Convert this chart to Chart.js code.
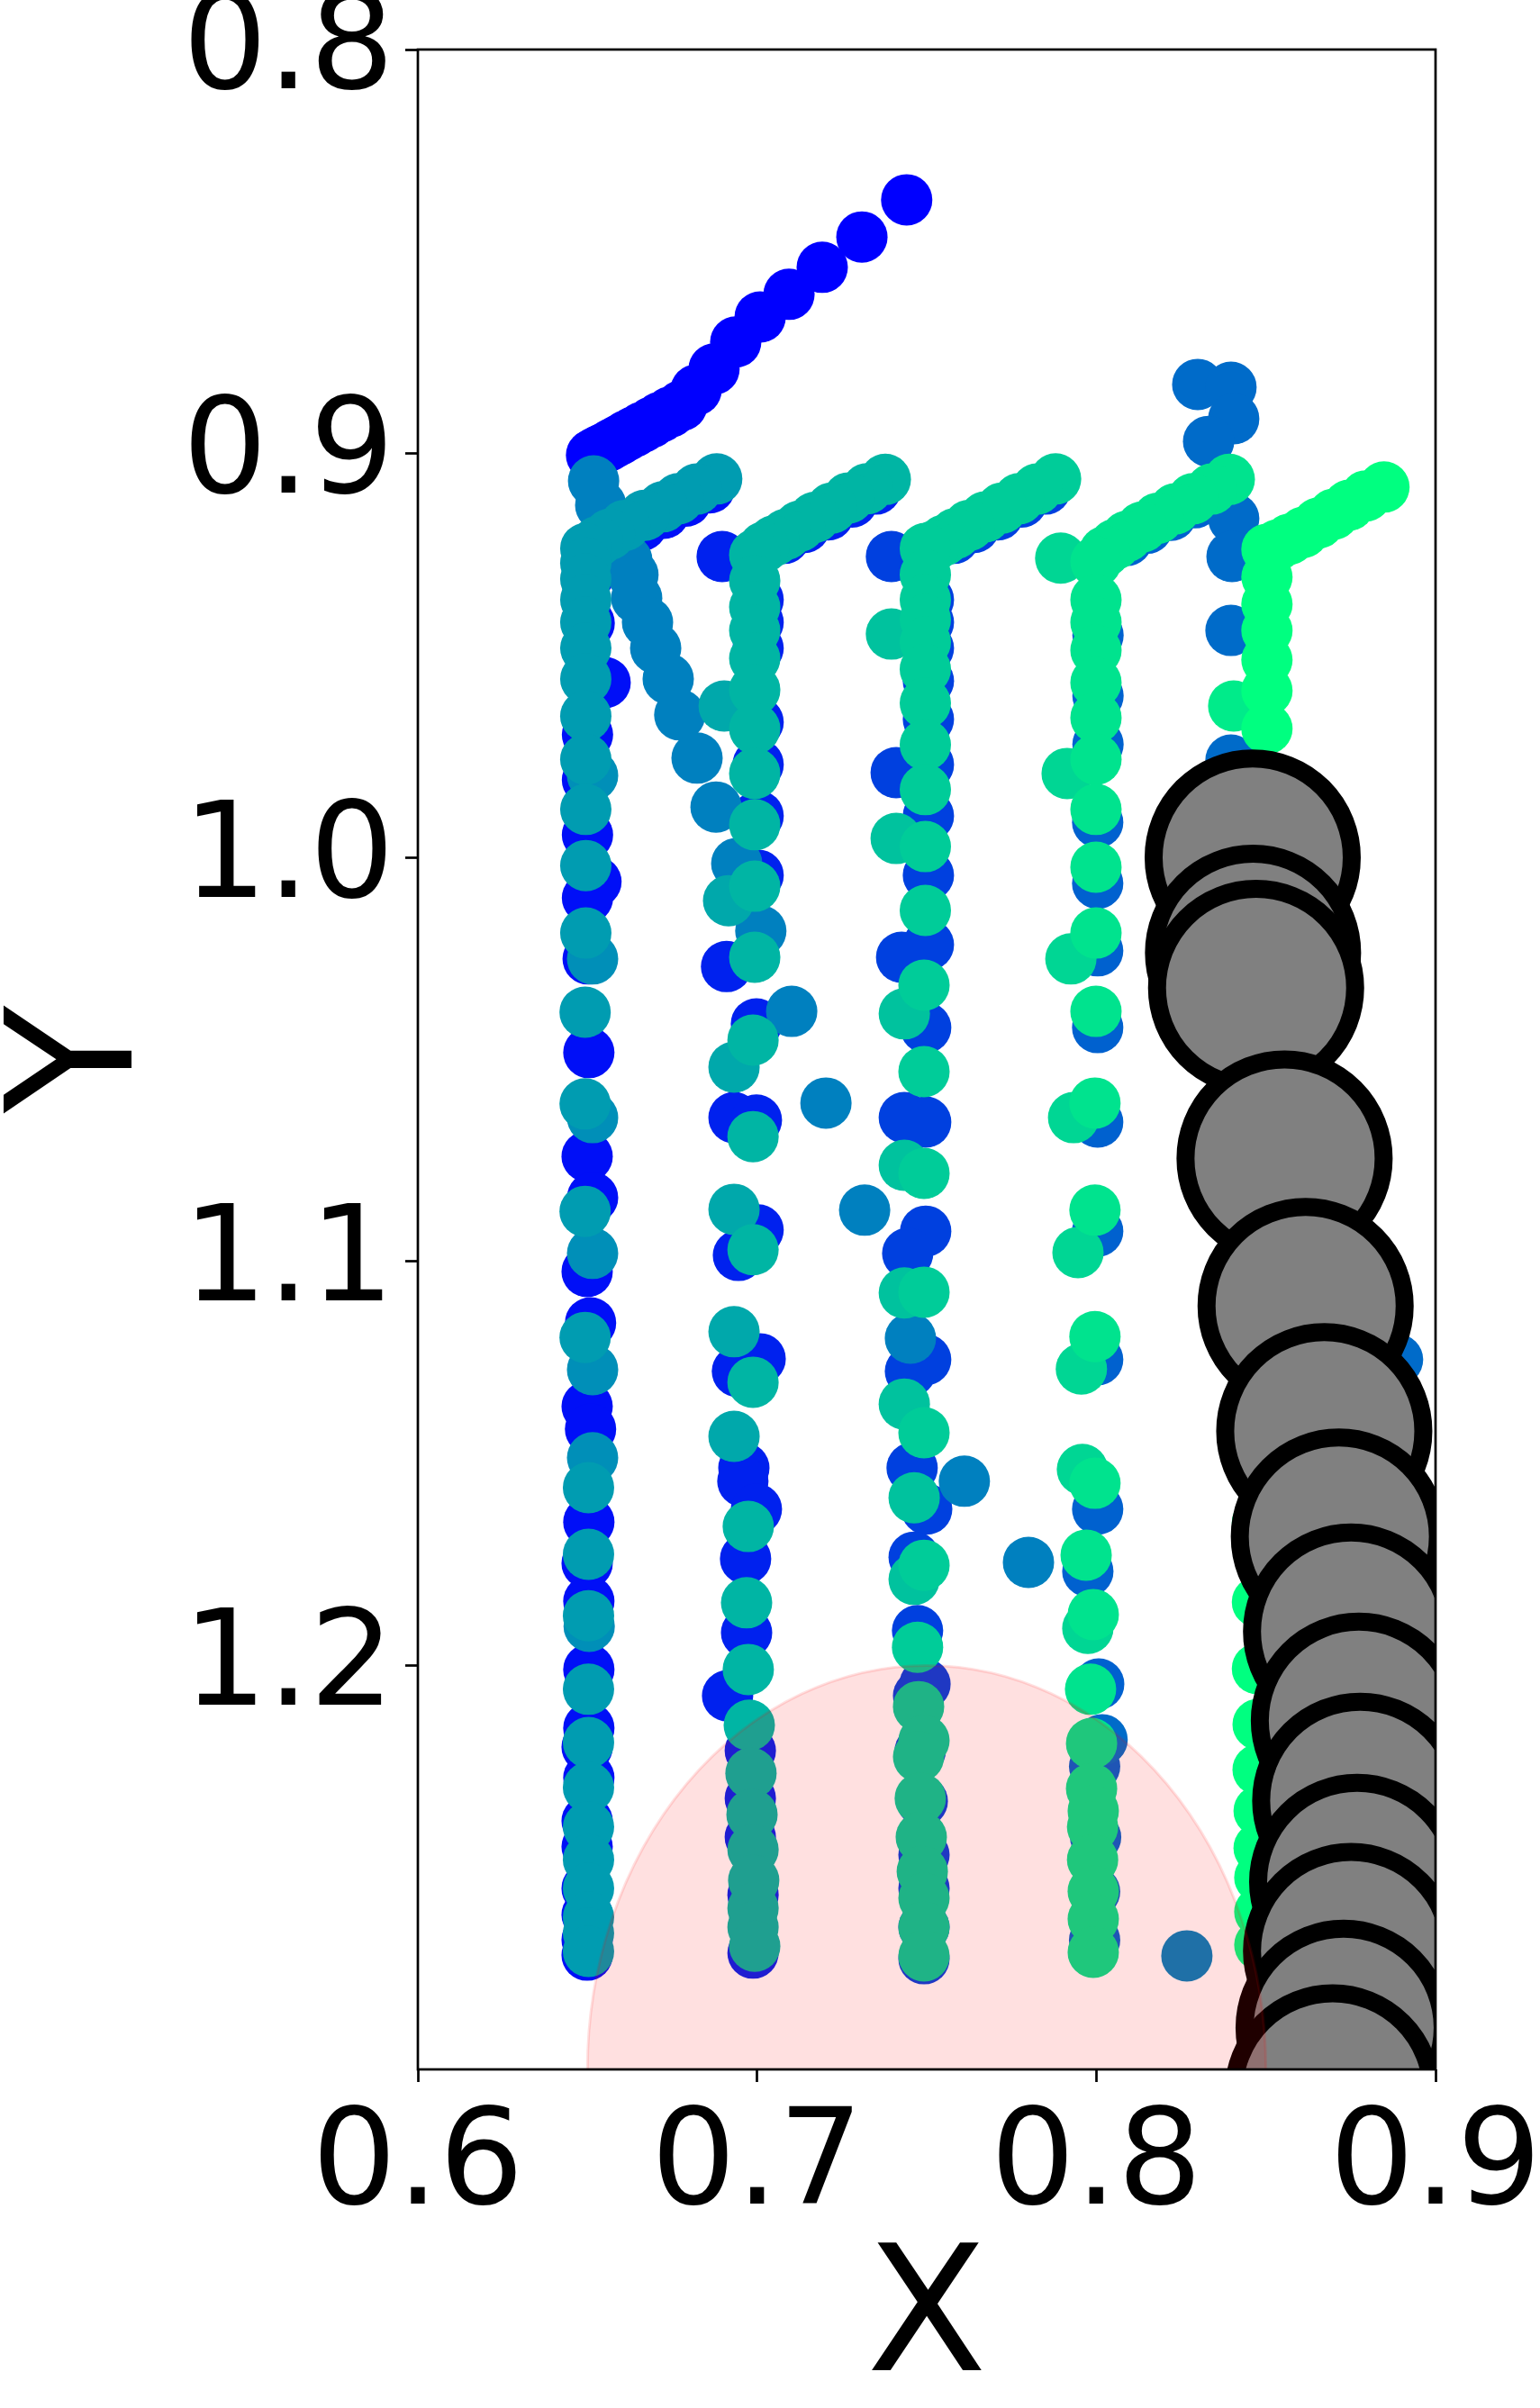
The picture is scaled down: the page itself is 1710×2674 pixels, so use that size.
<!DOCTYPE html>
<html><head><meta charset="utf-8">
<script src="https://cdn.jsdelivr.net/npm/chart.js@4"></script>
<style>html,body{margin:0;padding:0;background:#fff}canvas{display:block}</style>
</head><body>
<canvas id="c" width="1710" height="2674"></canvas>
<script>
// ---------- data (x, y) ----------
const xTicks = [0.6, 0.7, 0.8, 0.9];
const yTicks = [0.8, 0.9, 1.0, 1.1, 1.2];
const xRange = [0.6, 0.9];
const yRange = [0.8, 1.3];

const topArc = [[0.6512,0.9004],[0.6520,0.9000],[0.6530,0.8995],[0.6542,0.8990],[0.6558,0.8983],[0.6575,0.8975],[0.6595,0.8966],[0.6615,0.8956],[0.6638,0.8946],[0.6662,0.8935],[0.6688,0.8923],[0.6715,0.8910],[0.6745,0.8897],[0.6778,0.8881],[0.6820,0.8843],[0.6873,0.8791],[0.6937,0.8724],[0.7009,0.8662],[0.7094,0.8606],[0.7192,0.8539],[0.7309,0.8464],[0.7441,0.8372]];

const col1Blue = [[0.6860,0.9085],[0.6790,0.9118],[0.6725,0.9148],[0.6660,0.9178],[0.6600,0.9205],[0.6505,0.9300],[0.6505,0.9420],[0.6552,0.9567],[0.6500,0.9696],[0.6500,0.9808],[0.6500,0.9944],[0.6525,1.0060],[0.6500,1.0100],[0.6502,1.0251],[0.6504,1.0483],[0.6499,1.0740],[0.6515,1.0842],[0.6499,1.1025],[0.6509,1.1152],[0.6499,1.1359],[0.6509,1.1415],[0.6504,1.1645],[0.6499,1.1747],[0.6504,1.1841],[0.6504,1.2010],[0.6504,1.2155],[0.6499,1.2202],[0.6504,1.2278],[0.6499,1.2385],[0.6499,1.2449],[0.6499,1.2552],[0.6499,1.2617],[0.6499,1.2679],[0.6499,1.2717]];
const col2Blue = [[0.7350,0.9088],[0.7280,0.9120],[0.7210,0.9152],[0.7140,0.9183],[0.7080,0.9210],[0.6897,0.9255],[0.7003,0.9362],[0.7003,0.9418],[0.7003,0.9482],[0.7003,0.9665],[0.7003,0.9770],[0.7003,0.9897],[0.7003,1.0044],[0.6910,1.0270],[0.6998,1.0412],[0.6932,1.0644],[0.6998,1.0650],[0.7003,1.0922],[0.6945,1.0985],[0.7009,1.1241],[0.6942,1.1272],[0.6961,1.1511],[0.6958,1.1544],[0.6998,1.1613],[0.6966,1.1736],[0.6969,1.1919],[0.6913,1.2075],[0.6980,1.2211],[0.6980,1.2329],[0.6980,1.2425],[0.6988,1.2568],[0.6988,1.2712]];
const col3Blue = [[0.7850,0.9088],[0.7780,0.9120],[0.7710,0.9152],[0.7640,0.9183],[0.7580,0.9210],[0.7396,0.9255],[0.7505,0.9362],[0.7505,0.9418],[0.7505,0.9482],[0.7505,0.9563],[0.7505,0.9658],[0.7410,0.9790],[0.7505,0.9770],[0.7505,0.9897],[0.7505,1.0044],[0.7505,1.0216],[0.7426,1.0247],[0.7497,1.0421],[0.7434,1.0644],[0.7497,1.0655],[0.7497,1.0925],[0.7444,1.0980],[0.7497,1.1243],[0.7452,1.1272],[0.7457,1.1511],[0.7500,1.1613],[0.7463,1.1732],[0.7473,1.1914],[0.7495,1.2046],[0.7476,1.2075],[0.7481,1.2211],[0.7487,1.2336],[0.7492,1.2469],[0.7492,1.2552],[0.7492,1.2648],[0.7492,1.2726]];
const col4Blue = [[0.8360,0.9090],[0.8290,0.9122],[0.8220,0.9153],[0.8150,0.9185],[0.8090,0.9215],[0.8005,0.9450],[0.8005,0.9600],[0.8005,0.9720],[0.8004,0.9913],[0.8004,1.0064],[0.8004,1.0231],[0.8004,1.0421],[0.8004,1.0655],[0.8004,1.0925],[0.8004,1.1243],[0.8004,1.1613],[0.7975,1.1767],[0.8007,1.2046],[0.7995,1.2250],[0.7998,1.2425],[0.7995,1.2560],[0.7995,1.2680]];
const topRightBlue = [[0.8299,0.8829],[0.8397,0.8836],[0.8405,0.8914],[0.8331,0.8970],[0.8405,0.9161],[0.8400,0.9255],[0.8397,0.9438],[0.8397,0.9759],[0.8888,1.1243],[0.8017,1.2184]];
const descending = [[0.6518,0.9068],[0.6539,0.9128],[0.6565,0.9179],[0.6589,0.9222],[0.6616,0.9264],[0.6634,0.9300],[0.6645,0.9358],[0.6677,0.9418],[0.6701,0.9482],[0.6738,0.9558],[0.6772,0.9647],[0.6823,0.9754],[0.6879,0.9875],[0.6940,1.0015],[0.7011,1.0182],[0.7102,1.0381],[0.7203,1.0608],[0.7317,1.0873],[0.7452,1.1190],[0.7611,1.1544],[0.7800,1.1745],[0.8267,1.2719]];

const col1Sec = [[0.6515,0.9797],[0.6515,1.0251],[0.6515,1.0644],[0.6515,1.0980],[0.6515,1.1268],[0.6515,1.1486],[0.6505,1.1903]];
const col2Sec = [[0.6903,0.9625],[0.6916,1.0107],[0.6932,1.0519],[0.6932,1.0871],[0.6932,1.1174],[0.6932,1.1433]];
const col3Sec = [[0.7396,0.9447],[0.7410,0.9953],[0.7434,1.0387],[0.7434,1.0762],[0.7434,1.1078],[0.7434,1.1353],[0.7463,1.1585],[0.7463,1.1787]];
const col4Sec = [[0.7895,0.9259],[0.7914,0.9792],[0.7925,1.0251],[0.7933,1.0644],[0.7946,1.0978],[0.7956,1.1266],[0.7959,1.1515],[0.7975,1.1908]];
const col5Sec = [[0.8405,0.9625]];

const col1Main = [[0.6881,0.9063],[0.6822,0.9088],[0.6768,0.9112],[0.6722,0.9132],[0.6668,0.9153],[0.6610,0.9178],[0.6565,0.9200],[0.6530,0.9218],[0.6495,0.9235],[0.6495,0.9271],[0.6495,0.9311],[0.6495,0.9362],[0.6495,0.9418],[0.6495,0.9482],[0.6495,0.9558],[0.6495,0.9650],[0.6495,0.9757],[0.6495,0.9881],[0.6495,1.0020],[0.6495,1.0187],[0.6493,1.0383],[0.6493,1.0610],[0.6493,1.0876],[0.6493,1.1188],[0.6503,1.1560],[0.6503,1.1725],[0.6503,1.1877],[0.6503,1.2059],[0.6503,1.2191],[0.6503,1.2302],[0.6503,1.2400],[0.6503,1.2481],[0.6503,1.2552],[0.6503,1.2623],[0.6503,1.2663],[0.6503,1.2708]];
const col2Main = [[0.7378,0.9064],[0.7325,0.9087],[0.7270,0.9110],[0.7220,0.9135],[0.7170,0.9158],[0.7125,0.9180],[0.7085,0.9200],[0.7050,0.9216],[0.7020,0.9232],[0.6993,0.9251],[0.6993,0.9315],[0.6993,0.9380],[0.6993,0.9438],[0.6993,0.9507],[0.6993,0.9585],[0.6993,0.9681],[0.6993,0.9792],[0.6993,0.9919],[0.6993,1.0071],[0.6993,1.0247],[0.6988,1.0452],[0.6988,1.0691],[0.6988,1.0971],[0.6988,1.1299],[0.6974,1.1656],[0.6969,1.1845],[0.6974,1.2010],[0.6977,1.2148],[0.6982,1.2267],[0.6985,1.2369],[0.6988,1.2456],[0.6990,1.2532],[0.6988,1.2601],[0.6988,1.2648],[0.6993,1.2695]];
const col3Main = [[0.7880,0.9063],[0.7825,0.9088],[0.7772,0.9112],[0.7722,0.9135],[0.7672,0.9157],[0.7625,0.9178],[0.7585,0.9198],[0.7550,0.9215],[0.7522,0.9229],[0.7496,0.9235],[0.7496,0.9300],[0.7496,0.9362],[0.7496,0.9411],[0.7496,0.9467],[0.7496,0.9534],[0.7496,0.9618],[0.7496,0.9721],[0.7496,0.9832],[0.7496,0.9973],[0.7496,1.0131],[0.7492,1.0316],[0.7492,1.0530],[0.7492,1.0782],[0.7492,1.1076],[0.7492,1.1424],[0.7492,1.1752],[0.7473,1.1955],[0.7476,1.2102],[0.7492,1.2186],[0.7476,1.2226],[0.7481,1.2329],[0.7484,1.2425],[0.7487,1.2510],[0.7492,1.2576],[0.7492,1.2648],[0.7492,1.2719]];
const col4Main = [[0.8392,0.9064],[0.8340,0.9088],[0.8285,0.9112],[0.8232,0.9137],[0.8182,0.9160],[0.8135,0.9182],[0.8090,0.9205],[0.8055,0.9225],[0.8025,0.9243],[0.7999,0.9268],[0.7999,0.9362],[0.7999,0.9418],[0.7999,0.9487],[0.7999,0.9567],[0.7999,0.9654],[0.7999,0.9757],[0.7999,0.9881],[0.7999,1.0024],[0.7999,1.0187],[0.7999,1.0381],[0.7996,1.0608],[0.7996,1.0873],[0.7996,1.1186],[0.7996,1.1549],[0.7970,1.1727],[0.7991,1.1874],[0.7983,1.2059],[0.7986,1.2193],[0.7986,1.2305],[0.7991,1.2360],[0.7989,1.2400],[0.7989,1.2481],[0.7991,1.2559],[0.7991,1.2628],[0.7991,1.2710]];
const col5Main = [[0.8848,0.9083],[0.8795,0.9105],[0.8745,0.9128],[0.8700,0.9150],[0.8655,0.9172],[0.8610,0.9195],[0.8570,0.9212],[0.8535,0.9226],[0.8503,0.9237],[0.8503,0.9306],[0.8503,0.9373],[0.8503,0.9438],[0.8503,0.9511],[0.8503,0.9587],[0.8503,0.9681],[0.8500,0.9820],[0.8500,1.0000],[0.8500,1.0250],[0.8500,1.0550],[0.8500,1.0900],[0.8490,1.1300],[0.8475,1.1647],[0.8475,1.1843],[0.8475,1.2008],[0.8477,1.2146],[0.8477,1.2258],[0.8480,1.2360],[0.8480,1.2452],[0.8482,1.2525],[0.8482,1.2610],[0.8482,1.2692]];

const bigCircles = [[0.8461,1.0000],[0.8462,1.0236],[0.8471,1.0323],[0.8555,1.0745],[0.8617,1.1110],[0.8672,1.1420],[0.8715,1.1681],[0.8751,1.1916],[0.8774,1.2137],[0.8778,1.2335],[0.8769,1.2536],[0.8751,1.2707],[0.8729,1.2897],[0.8697,1.3057]];

// colour value (0..1 on the winter colormap) for each series
const seriesColorValue = {
  topArc: 0.0, col1Blue: 0.06, col2Blue: 0.13, col3Blue: 0.25, col4Blue: 0.38, topRightBlue: 0.42,
  descending: 0.5, col1Sec: 0.56, col1Main: 0.61, col2Sec: 0.66, col2Main: 0.71,
  col3Sec: 0.76, col3Main: 0.8, col4Sec: 0.84, col4Main: 0.89, col5Sec: 0.92, col5Main: 1.0
};
const exclusionZone = { cx: 0.75, cy: 1.3, r: 0.1 };

// ---------- drawing ----------
function winter(c) {
  return 'rgb(0,' + Math.round(255 * c) + ',' + Math.round(255 * (1 - c / 2)) + ')';
}
const layers = [
  ['topArc', topArc], ['col1Blue', col1Blue], ['col2Blue', col2Blue], ['col3Blue', col3Blue],
  ['col4Blue', col4Blue], ['topRightBlue', topRightBlue], ['descending', descending],
  ['col1Sec', col1Sec], ['col2Sec', col2Sec], ['col3Sec', col3Sec], ['col4Sec', col4Sec], ['col5Sec', col5Sec],
  ['col1Main', col1Main], ['col2Main', col2Main], ['col3Main', col3Main], ['col4Main', col4Main], ['col5Main', col5Main]
];
const toPts = arr => arr.map(p => ({x: p[0], y: p[1]}));
const datasets = layers.map(([name, arr]) => {
  const col = winter(seriesColorValue[name]);
  return {
    label: name, data: toPts(arr), backgroundColor: col, borderColor: col,
    pointRadius: 28.5, pointHoverRadius: 28.5, borderWidth: 0, pointBorderWidth: 0, clip: 0
  };
});
datasets.push({
  label: 'obstacles', data: toPts(bigCircles), backgroundColor: '#808080', borderColor: '#000000',
  pointRadius: 110, pointHoverRadius: 110, pointBorderWidth: 20, borderWidth: 20, clip: 0
});
const N = datasets.length;
datasets.forEach((d, i) => { d.order = N - i; });

const overlay = {
  id: 'overlay',
  afterDatasetsDraw(chart) {
    const {ctx, chartArea: a, scales: {x, y}} = chart;
    const cx = x.getPixelForValue(exclusionZone.cx), cy = y.getPixelForValue(exclusionZone.cy);
    const rx = Math.abs(x.getPixelForValue(exclusionZone.cx + exclusionZone.r) - cx);
    const ry = Math.abs(y.getPixelForValue(exclusionZone.cy - exclusionZone.r) - cy);
    ctx.save();
    ctx.beginPath(); ctx.rect(a.left, a.top, a.right - a.left, a.bottom - a.top); ctx.clip();
    ctx.beginPath(); ctx.ellipse(cx, cy, rx, ry, 0, 0, Math.PI * 2);
    ctx.fillStyle = 'rgba(255,0,0,0.12)'; ctx.fill();
    ctx.lineWidth = 3; ctx.strokeStyle = 'rgba(255,0,0,0.12)'; ctx.stroke();
    ctx.restore();
    ctx.save();
    ctx.lineWidth = 2.7; ctx.strokeStyle = '#000';
    ctx.strokeRect(a.left, a.top, a.right - a.left, a.bottom - a.top);
    ctx.restore();
  }
};
const noOverhang = s => { s.paddingTop = 0; s.paddingBottom = 0; s.paddingLeft = 0; s.paddingRight = 0; };

const tickFont = {family: 'DejaVu Sans', size: 148};
const titleFont = {family: 'DejaVu Sans', size: 195, lineHeight: 0.9};
new Chart(document.getElementById('c'), {
  type: 'scatter',
  data: {datasets},
  options: {
    responsive: false, animation: false, devicePixelRatio: 1,
    layout: {autoPadding: false, padding: {top: 55, right: 116, left: 0, bottom: 0}},
    plugins: {legend: {display: false}, tooltip: {enabled: false}},
    events: [],
    scales: {
      x: {
        type: 'linear', min: xRange[0], max: xRange[1],
        afterBuildTicks: s => { s.ticks = xTicks.map(v => ({value: v})); },
        afterFit: s => { s.height = 2674 - 2298; noOverhang(s); },
        grid: {drawOnChartArea: false, drawTicks: true, tickLength: 14, tickWidth: 2.7, color: '#000'},
        border: {display: false},
        ticks: {color: '#000', font: tickFont, padding: 8, maxRotation: 0, autoSkip: false,
                callback: v => Number(v).toFixed(1)},
        title: {display: true, text: 'X', color: '#000', font: titleFont, padding: {top: 0, bottom: 5}}
      },
      y: {
        type: 'linear', min: yRange[0], max: yRange[1], reverse: true,
        afterBuildTicks: s => { s.ticks = yTicks.map(v => ({value: v})); },
        afterFit: s => { s.width = 464; noOverhang(s); },
        grid: {drawOnChartArea: false, drawTicks: true, tickLength: 14, tickWidth: 2.7, color: '#000'},
        border: {display: false},
        ticks: {color: '#000', font: tickFont, padding: 12, labelOffset: 5, autoSkip: false,
                callback: v => Number(v).toFixed(1)},
        title: {display: true, text: 'Y', color: '#000', font: titleFont, padding: {top: 8, bottom: 0}}
      }
    }
  },
  plugins: [overlay]
});
</script></body></html>
